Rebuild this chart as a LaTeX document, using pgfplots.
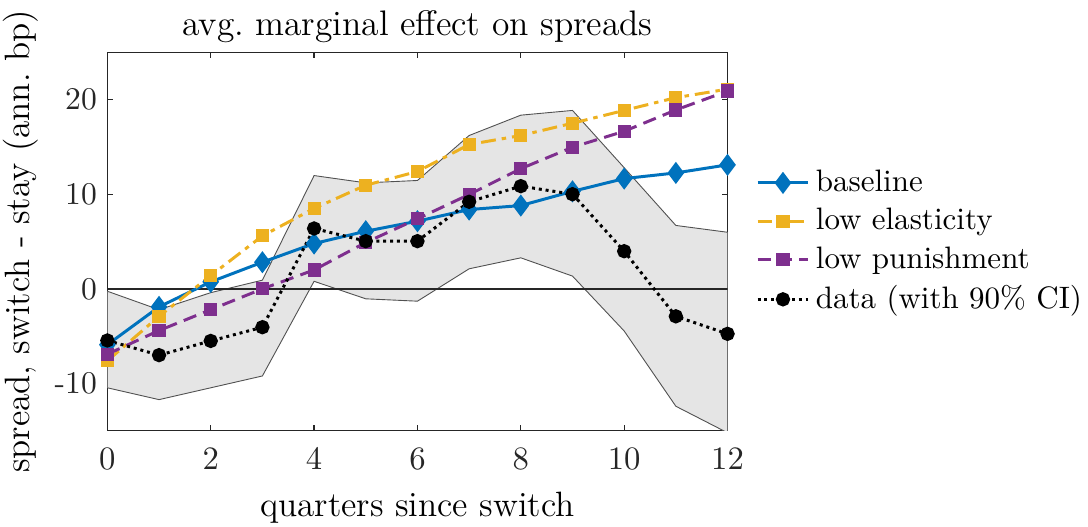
\documentclass[border=0pt]{standalone}
\usepackage{pgfplots}
\pgfplotsset{compat=1.18}
\definecolor{mblue}{RGB}{0,114,189}
\definecolor{myellow}{RGB}{237,177,32}
\definecolor{mpurple}{RGB}{126,47,142}
\definecolor{axgray}{RGB}{38,38,38}

\begin{document}
\begin{tikzpicture}
\begin{axis}[
    scale only axis,
    width=208pt, height=127pt,
    xmin=0, xmax=12, ymin=-15, ymax=25,
    xtick={0,2,...,12}, ytick={-10,0,10,20},
    yticklabels={-10,0,10,20},
    tick align=inside, major tick length=2pt,
    axis line style={axgray, line width=0.4pt},
    tick style={axgray, line width=0.4pt},
    tick label style={font=\fontsize{10.6}{12}\selectfont, text=axgray},
    xticklabel style={yshift=-2.5pt},
    title={avg.\ marginal effect on spreads},
    title style={font=\fontsize{11.9}{13}\selectfont, inner ysep=3.5pt, inner xsep=1pt, yshift=-6.5pt},
    xlabel={quarters since switch},
    ylabel={spread, switch - stay (ann.\ bp)},
    label style={font=\fontsize{11.8}{13}\selectfont},
    xlabel style={inner sep=1pt, yshift=-3pt},
    ylabel style={inner sep=1pt, yshift=1pt},
    legend style={at={(1.045,0.5)}, anchor=west, draw=none, fill=none,
        inner xsep=0pt, inner ysep=1pt,
        font=\fontsize{10.4}{12}\selectfont, row sep=0.2pt},
    legend cell align=left,
    clip=true,
]
% 90% CI band (upper from 0..12, then lower back from 12..0)
\addplot[fill=gray!20, draw=axgray!80, line width=0.3pt, forget plot] coordinates {
    (0,-0.25) (1,-2.2) (2,-0.4) (3,0.92) (4,11.97) (5,11.2) (6,11.45)
    (7,16.2) (8,18.35) (9,18.85) (10,12.8) (11,6.7) (12,5.98)
    (12,-15.2) (11,-12.4) (10,-4.45) (9,1.35) (8,3.28) (7,2.12) (6,-1.3)
    (5,-1.05) (4,0.8) (3,-9.2) (2,-10.45) (1,-11.7) (0,-10.45)
} -- cycle;
% zero line
\addplot[axgray, line width=0.7pt, forget plot] coordinates {(0,0) (12,0)};

\addplot[mblue, line width=1pt, mark=diamond*, mark size=2.9pt,
    mark options={solid}] coordinates {
    (0,-5.9) (1,-1.9) (2,0.74) (3,2.82) (4,4.79) (5,6.09) (6,7.15)
    (7,8.38) (8,8.8) (9,10.3) (10,11.65) (11,12.25) (12,13.1)
};
\addplot[myellow, line width=1pt, dash pattern=on 5pt off 2pt on 1.5pt off 2pt,
    mark=square*, mark size=1.7pt, mark options={solid}] coordinates {
    (0,-7.6) (1,-2.9) (2,1.4) (3,5.6) (4,8.5) (5,10.95) (6,12.4)
    (7,15.25) (8,16.2) (9,17.5) (10,18.85) (11,20.2) (12,21.1)
};
\addplot[mpurple, line width=1pt, dash pattern=on 4.5pt off 2.5pt,
    mark=square*, mark size=1.7pt, mark options={solid}] coordinates {
    (0,-6.9) (1,-4.4) (2,-2.2) (3,0.0) (4,2.0) (5,4.9) (6,7.4)
    (7,9.97) (8,12.7) (9,14.96) (10,16.65) (11,18.9) (12,20.9)
};
\addplot[black, line width=1pt, dash pattern=on 1pt off 1.3pt,
    mark=*, mark size=1.9pt, mark options={solid}] coordinates {
    (0,-5.45) (1,-7.0) (2,-5.5) (3,-4.05) (4,6.38) (5,5.04) (6,5.04)
    (7,9.2) (8,10.85) (9,10.0) (10,3.98) (11,-2.9) (12,-4.75)
};
\legend{baseline, low elasticity, low punishment, data (with 90\% CI)}
\end{axis}
\end{tikzpicture}
\end{document}
